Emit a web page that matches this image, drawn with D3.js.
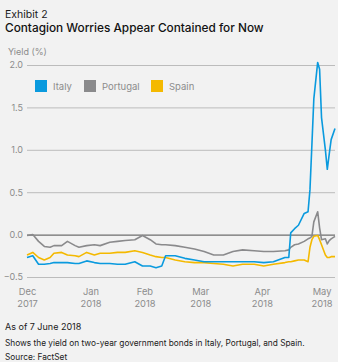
<!DOCTYPE html>
<html>
<head>
<meta charset="utf-8">
<script src="https://cdn.jsdelivr.net/npm/d3@7"></script>
<style>
  body { margin: 0; background: #f2f2f2; }
  svg { display: block; font-family: Inter, "Liberation Sans", sans-serif; }
</style>
</head>
<body>
<div id="chart"></div>
<script>
// data read from the exhibit (2y govt bond yields, %)
var dates = ["2017-12-29","2018-01-01","2018-01-04","2018-01-07","2018-01-10","2018-01-12","2018-01-16","2018-01-19",
  "2018-01-23","2018-01-25","2018-01-29","2018-02-02","2018-02-05","2018-02-10","2018-02-14","2018-02-18",
  "2018-02-23","2018-02-27","2018-03-03","2018-03-06","2018-03-09","2018-03-11","2018-03-16","2018-03-21",
  "2018-03-26","2018-03-31","2018-04-05","2018-04-10","2018-04-15","2018-04-20","2018-04-26","2018-05-01",
  "2018-05-06","2018-05-12","2018-05-14","2018-05-15","2018-05-17","2018-05-19","2018-05-22","2018-05-24",
  "2018-05-25","2018-05-26","2018-05-27","2018-05-29","2018-05-30","2018-05-31","2018-06-02","2018-06-03",
  "2018-06-04","2018-06-05","2018-06-07"];

var italy = [-0.27,-0.25,-0.35,-0.35,-0.34,-0.33,-0.33,-0.33,
  -0.34,-0.34,-0.31,-0.33,-0.34,-0.34,-0.35,-0.35,
  -0.32,-0.37,-0.37,-0.39,-0.37,-0.25,-0.25,-0.28,
  -0.30,-0.32,-0.32,-0.32,-0.32,-0.32,-0.32,-0.33,
  -0.32,-0.27,-0.27,0.02,0.07,0.11,0.25,0.27,
  0.53,1.06,1.60,2.03,1.95,1.38,1.00,0.77,
  0.95,1.12,1.25];

var portugal = [-0.01,0.00,-0.08,-0.14,-0.15,-0.13,-0.13,-0.08,
  -0.13,-0.15,-0.13,-0.12,-0.13,-0.09,-0.08,-0.07,
  -0.06,-0.01,-0.06,-0.11,-0.12,-0.12,-0.13,-0.15,
  -0.17,-0.20,-0.24,-0.24,-0.20,-0.18,-0.19,-0.20,
  -0.20,-0.19,-0.18,-0.15,-0.12,-0.11,-0.08,-0.05,
  -0.04,-0.02,0.15,0.27,0.08,-0.06,-0.05,-0.11,
  -0.07,-0.05,-0.02];

var spain = [-0.24,-0.21,-0.27,-0.30,-0.27,-0.22,-0.21,-0.24,
  -0.25,-0.26,-0.21,-0.24,-0.22,-0.22,-0.21,-0.21,
  -0.19,-0.21,-0.24,-0.26,-0.27,-0.27,-0.30,-0.32,
  -0.33,-0.33,-0.34,-0.35,-0.37,-0.35,-0.35,-0.37,
  -0.35,-0.33,-0.32,-0.32,-0.31,-0.30,-0.30,-0.32,
  -0.15,-0.06,-0.02,-0.01,-0.06,-0.12,-0.24,-0.27,
  -0.27,-0.26,-0.26];

var seriesNames = ["Italy", "Portugal", "Spain"];
var seriesColors = ["#0a9ade", "#8a8a8c", "#f4b900"];
var yTicks = [-0.5, 0, 0.5, 1.0, 1.5, 2.0];
var xTickDates = ["2017-12-29","2018-01-31","2018-02-28","2018-03-29","2018-04-30","2018-05-31"];
var xTickLabels = [["Dec","2017"],["Jan","2018"],["Feb","2018"],["Mar","2018"],["Apr","2018"],["May","2018"]];

var width = 338, height = 362;
var margin = { top: 65, right: 3, bottom: 85, left: 27 };

var parse = d3.timeParse("%Y-%m-%d");
var allSeries = [italy, portugal, spain].map(function(vals, i) {
  return { name: seriesNames[i], color: seriesColors[i],
    values: vals.map(function(v, j) { return { date: parse(dates[j]), value: v }; }) };
});

var svg = d3.select("#chart").append("svg")
  .attr("width", width)
  .attr("height", height);

svg.append("rect").attr("width", width).attr("height", height).attr("fill", "#f2f2f2");

// titles
svg.append("text").attr("x", 5).attr("y", 18)
  .style("font-size", "10.5px").style("fill", "#1a1a1a")
  .text("Exhibit 2");
svg.append("text").attr("x", 5).attr("y", 32)
  .style("font-size", "11.8px").style("font-weight", 500).style("fill", "#111")
  .text("Contagion Worries Appear Contained for Now");
svg.append("text").attr("x", 8).attr("y", 55)
  .style("font-size", "9px").style("fill", "#8c8c8c")
  .text("Yield (%)");

var x = d3.scaleTime()
  .domain([parse("2017-12-29"), parse("2018-06-07")])
  .range([margin.left, width - margin.right]);

var y = d3.scaleLinear()
  .domain([-0.5, 2.0])
  .range([height - margin.bottom, margin.top]);

// gridlines + y labels
var yAxis = svg.append("g")
  .attr("transform", "translate(" + margin.left + ",0)")
  .call(d3.axisLeft(y).tickValues(yTicks).tickFormat(d3.format(".1f"))
    .tickSize(-(width - margin.left - margin.right)).tickPadding(4));
yAxis.select(".domain").remove();
yAxis.selectAll("line").attr("stroke", function(d) { return d === 0 ? "#6e6e6e" : "#bcbcbc"; })
  .attr("stroke-width", function(d) { return d === 0 ? 1.2 : 1; });
yAxis.selectAll("text").style("font-size", "9px").style("fill", "#8c8c8c")
  .style("font-family", "Inter, 'Liberation Sans', sans-serif");

// x labels
var xAxis = svg.append("g")
  .attr("transform", "translate(0," + (height - margin.bottom) + ")")
  .call(d3.axisBottom(x).tickValues(xTickDates.map(parse)).tickSize(0).tickFormat(""));
xAxis.select(".domain").remove();
xAxis.selectAll(".tick").each(function(d, i) {
  var t = d3.select(this).select("text")
    .attr("y", 0).attr("dy", null)
    .style("font-size", "9.3px").style("fill", "#8c8c8c")
    .style("font-family", "Inter, 'Liberation Sans', sans-serif");
  t.append("tspan").attr("x", 0).attr("y", 17.5).text(xTickLabels[i][0]);
  t.append("tspan").attr("x", 0).attr("y", 29.5).text(xTickLabels[i][1]);
});

// lines
var line = d3.line()
  .x(function(d) { return x(d.date); })
  .y(function(d) { return y(d.value); });

[2, 1, 0].forEach(function(i) {
  svg.append("path")
    .datum(allSeries[i].values)
    .attr("fill", "none")
    .attr("stroke", allSeries[i].color)
    .attr("stroke-width", 1.6)
    .attr("stroke-linejoin", "round")
    .attr("d", line);
});

// legend
var legendX = [35, 84, 151];
var legend = svg.selectAll(".legend").data(allSeries).enter().append("g")
  .attr("transform", function(d, i) { return "translate(" + legendX[i] + ",80)"; });
legend.append("rect").attr("width", 12).attr("height", 12).attr("fill", function(d) { return d.color; });
legend.append("text").attr("x", 18).attr("y", 10)
  .style("font-size", "9.5px").style("fill", "#8c8c8c")
  .text(function(d) { return d.name; });

// notes
svg.append("text").attr("x", 5).attr("y", 330)
  .style("font-size", "9px").style("fill", "#1a1a1a")
  .text("As of 7 June 2018");
svg.append("text").attr("x", 5).attr("y", 346)
  .style("font-size", "8.3px").style("fill", "#1a1a1a")
  .text("Shows the yield on two-year government bonds in Italy, Portugal, and Spain.");
svg.append("text").attr("x", 5).attr("y", 360)
  .style("font-size", "8.3px").style("fill", "#1a1a1a")
  .text("Source: FactSet");
</script>
</body>
</html>
